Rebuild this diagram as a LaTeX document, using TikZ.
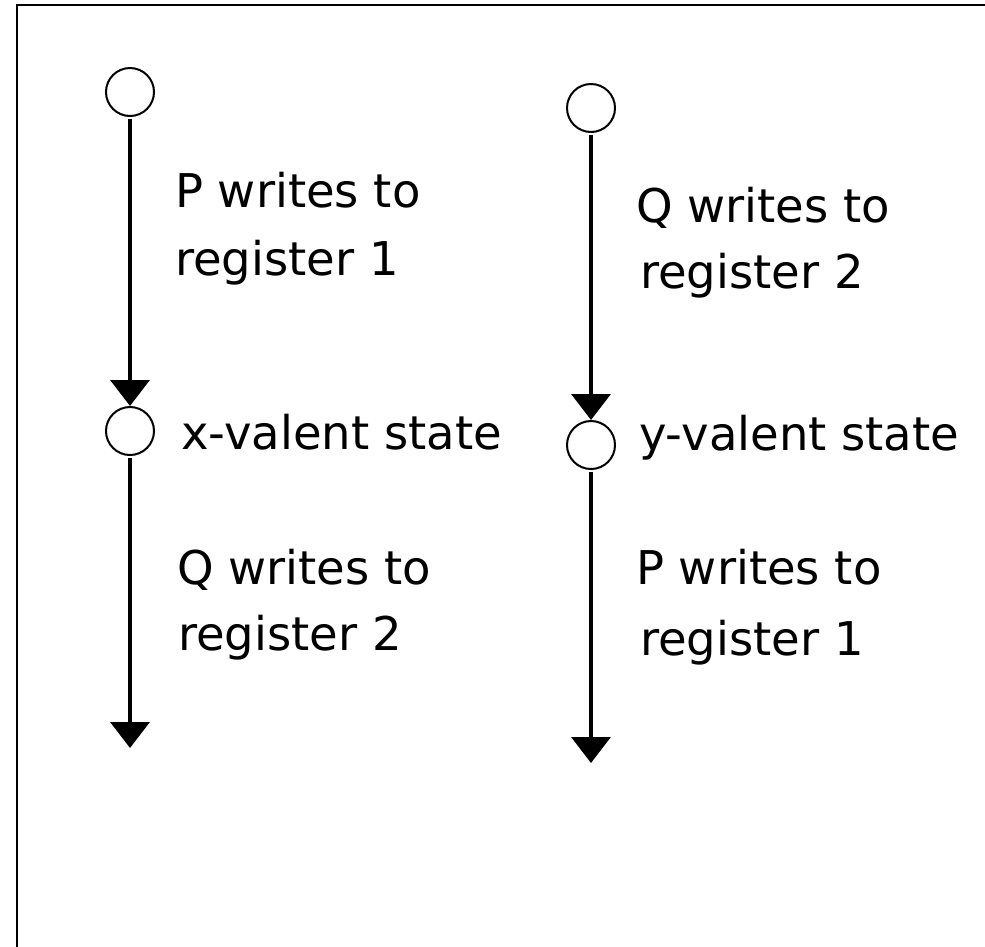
\documentclass[tikz,border=0pt]{standalone}
\usepackage{fontspec}
\setmainfont{DejaVu Sans}
\usetikzlibrary{arrows.meta}
\begin{document}
\begin{tikzpicture}[x=1pt,y=-1pt,
  state/.style={circle,draw=black,line width=2pt,minimum size=48pt,inner sep=0pt,fill=white},
  move/.style={line width=3.5pt,-{Triangle[width=39pt,length=26pt]},shorten <=2pt},
  lbl/.style={anchor=base west,inner sep=0pt,font=\fontsize{46.5}{56}\selectfont}]
\useasboundingbox (0,0) rectangle (985,946);
\draw[line width=2.5pt] (17,960) -- (17,5) -- (1000,5);
% left column
\node[state] (c1) at (130,92) {};
\node[state] (c2) at (130,431) {};
\coordinate (e1) at (130,748);
\draw[move] (c1) -- (c2);
\draw[move] (c2) -- (e1);
\node[lbl] (t1a) at (175,207) {P writes to};
\node[lbl] (t1b) at (175,275) {register 1};
\node[lbl] (t2) at (181,449) {x-valent state};
\node[lbl] (t3a) at (177,584) {Q writes to};
\node[lbl] (t3b) at (178,650) {register 2};
% right column
\node[state] (c3) at (591,108) {};
\node[state] (c4) at (591,445) {};
\coordinate (e2) at (591,763);
\draw[move] (c3) -- (c4);
\draw[move] (c4) -- (e2);
\node[lbl] (t4a) at (636,222) {Q writes to};
\node[lbl] (t4b) at (640,288) {register 2};
\node[lbl] (t5) at (639,450) {y-valent state};
\node[lbl] (t6a) at (636,584) {P writes to};
\node[lbl] (t6b) at (640,655) {register 1};
\end{tikzpicture}
\end{document}
